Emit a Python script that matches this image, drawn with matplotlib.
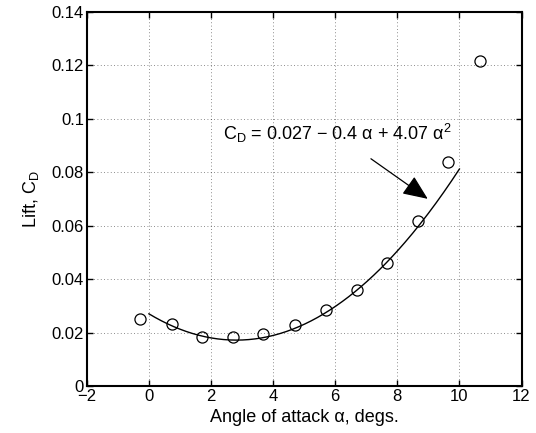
import numpy as np
import matplotlib
matplotlib.use("Agg")
import matplotlib.pyplot as plt

plt.rcParams['font.family'] = ['Liberation Sans', 'DejaVu Sans']
plt.rcParams['mathtext.fontset'] = 'custom'
plt.rcParams['mathtext.rm'] = 'Liberation Sans'
plt.rcParams['axes.unicode_minus'] = True

# Measured drag coefficient vs angle of attack (degrees)
alpha_deg = [-0.3, 0.74, 1.72, 2.72, 3.68, 4.69, 5.70, 6.70, 7.66, 8.67, 9.64, 10.66]
cd_meas = [0.0252, 0.0231, 0.0182, 0.0182, 0.0196, 0.0227, 0.0284, 0.0359, 0.0459, 0.0617, 0.0839, 0.1216]

# Quadratic fit coefficients (alpha in radians)
fit_coef = [0.027, -0.4, 4.07]
fit_range_deg = [0.0, 10.0]

xticks = [-2, 0, 2, 4, 6, 8, 10, 12]
yticks = [0, 0.02, 0.04, 0.06, 0.08, 0.1, 0.12, 0.14]
ytick_labels = ['0', '0.02', '0.04', '0.06', '0.08', '0.1', '0.12', '0.14']

FS_TICK = 12
FS = 13

fig = plt.figure(figsize=(5.36, 4.33), dpi=100)
ax = fig.add_axes([0.162, 0.1085, 0.811, 0.8645])

a_fit = np.linspace(fit_range_deg[0], fit_range_deg[1], 200)
a_rad = np.deg2rad(a_fit)
cd_fit = fit_coef[0] + fit_coef[1] * a_rad + fit_coef[2] * a_rad ** 2

ax.plot(alpha_deg, cd_meas, 'o', mfc='none', mec='k', ms=8, mew=0.9)
ax.plot(a_fit, cd_fit, '-', color='k', lw=1.0)

ax.set_xlim(-2, 12)
ax.set_ylim(0, 0.14)
ax.set_xticks(xticks)
ax.set_xticklabels([str(t).replace('-', '\u2212') for t in xticks])
ax.set_yticks(yticks)
ax.set_yticklabels(ytick_labels)

ax.grid(True, linestyle=(0, (1, 3)), color='k', lw=0.6, alpha=0.6)
ax.tick_params(direction='in', top=True, right=True, length=4, width=1,
               labelsize=FS_TICK, pad=2)
for s in ax.spines.values():
    s.set_linewidth(1.5)

ax.set_xlabel('Angle of attack \u03b1, degs.', fontsize=FS, labelpad=4)
ax.set_ylabel(r'Lift, C$_\mathregular{D}$', fontsize=FS, labelpad=8)

fit_label = 'C$_\\mathregular{D}$ = 0.027 \u2212 0.4 \u03b1 + 4.07 \u03b1$^\\mathregular{2}$'
ax.text(2.37, 0.0920, fit_label, fontsize=FS, va='baseline', ha='left')
ax.annotate('', xy=(8.98, 0.0700), xytext=(7.15, 0.0850),
            arrowprops=dict(arrowstyle='-|>,head_length=0.7,head_width=0.3',
                            mutation_scale=22, lw=0.9,
                            color='k', shrinkA=0, shrinkB=0))

fig.savefig('out.png', dpi=100)
